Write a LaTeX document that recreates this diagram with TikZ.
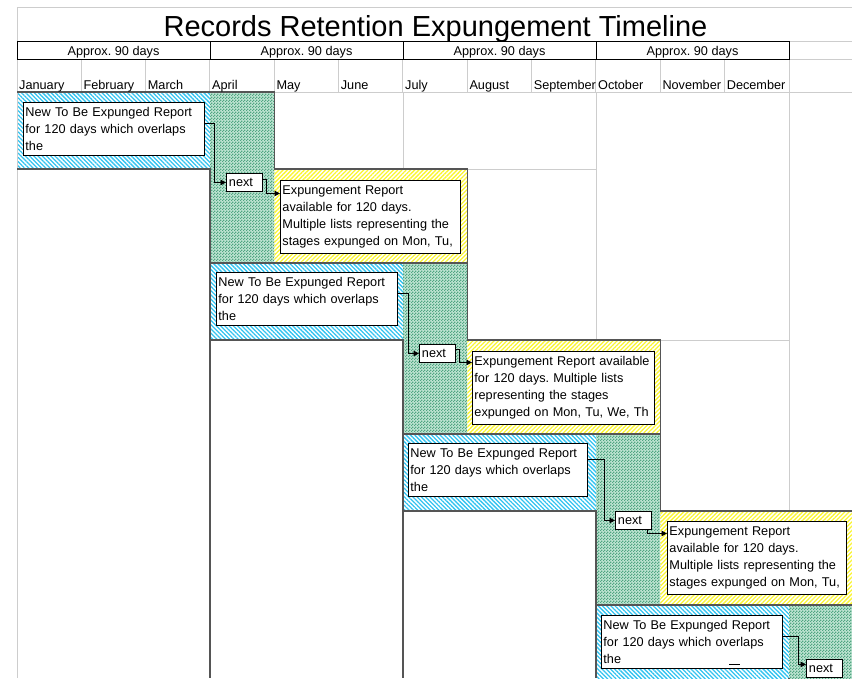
\documentclass[tikz,border=0pt]{standalone}
\usepackage{fontspec}
\setmainfont{Liberation Sans}
\usetikzlibrary{arrows.meta,patterns,patterns.meta}
\frenchspacing

\definecolor{hatchblue}{RGB}{50,195,240}
\definecolor{hatchyellow}{RGB}{250,245,50}
\definecolor{checklight}{RGB}{190,228,210}
\definecolor{checkdark}{RGB}{80,165,130}
\definecolor{gridgray}{RGB}{205,205,205}
\definecolor{edgegray}{RGB}{85,85,85}

% small two-tone check used for the overlap columns
\pgfdeclarepatternformonly{finechecker}{\pgfpointorigin}{\pgfqpoint{3pt}{3pt}}{\pgfqpoint{3pt}{3pt}}{%
  \pgfpathrectangle{\pgfpointorigin}{\pgfqpoint{1.5pt}{1.5pt}}%
  \pgfpathrectangle{\pgfqpoint{1.5pt}{1.5pt}}{\pgfqpoint{1.5pt}{1.5pt}}%
  \pgfusepath{fill}}

\tikzset{
  txt/.style={font=\fontsize{12.7}{17}\selectfont},
  note/.style={txt, draw, fill=white, line width=0.9pt, anchor=north west,
    align=left, inner xsep=2pt, inner ysep=0pt, text width=#1, minimum height=53,
    execute at begin node={\hyphenpenalty=10000\exhyphenpenalty=10000}},
  nextbox/.style={txt, draw, fill=white, line width=0.9pt, anchor=north west,
    align=left, inner sep=0pt, text width=31, minimum width=36, minimum height=18},
  conn/.style={line width=0.8pt, -{Triangle[length=5.5pt,width=5.5pt]}},
  gridline/.style={gridgray, line width=1pt},
  edge/.style={edgegray, line width=1.3pt},
  bluehatch/.style={pattern={Lines[angle=-45,distance=3pt,line width=1.3pt]}, pattern color=hatchblue},
  yellowhatch/.style={pattern={Lines[angle=45,distance=3pt,line width=1.3pt]}, pattern color=hatchyellow},
}

\begin{document}
\begin{tikzpicture}[x=1pt,y=-1pt]
    \useasboundingbox (0,0) rectangle (852,678);
    \clip (0,0) rectangle (852,678);

    % bands
    \foreach \i in {0,1,2,3} {
        \pgfmathsetmacro\xa{17+193*\i}
        \pgfmathsetmacro\ya{92+171*\i}
        \fill[bluehatch] (\xa,\ya) rectangle ++(193,77);
        \fill[checklight] (\xa+193,\ya) rectangle ++(64.33,171);
        \fill[pattern=finechecker, pattern color=checkdark] (\xa+193,\ya) rectangle ++(64.33,171);
        \fill[yellowhatch] (\xa+257.33,\ya+77) rectangle ++(193,94);
    }

    % grid
    \draw[gridline] (17,7) -- (852,7);
    \draw[gridline] (17,7) -- (17,678);
    \draw[gridline] (789,41) -- (852,41);
    \draw[gridline] (789,59) -- (852,59);
    \draw[gridline] (17,92) -- (852,92);
    \foreach \k in {1,...,11}
        \draw[gridline] (17+64.33*\k,59) -- (17+64.33*\k,92);
    \draw[gridline] (403,92) -- (403,169);
    \draw[gridline] (596,92) -- (596,340);
    \draw[gridline] (789,59) -- (789,511);
    \draw[gridline] (467,169) -- (596,169);
    \draw[gridline] (660,340) -- (789,340);

    % header boxes
    \draw[line width=1pt] (17,41) rectangle (789,59);
    \foreach \q in {1,2,3}
        \draw[line width=1pt] (17+193*\q,41) -- (17+193*\q,59);

    % band outlines
    \foreach \i in {0,1,2,3} {
        \pgfmathsetmacro\xa{17+193*\i}
        \pgfmathsetmacro\ya{92+171*\i}
        \draw[edge] (\xa,\ya) -- ++(257.33,0) -- ++(0,77) -- ++(193,0) -- ++(0,94);
        \draw[edge] (\xa,\ya+77) -- ++(193,0) -- (\xa+193,678);
    }

    % titles
    \node[font=\fontsize{29}{34}\selectfont, anchor=base] (title) at (435.5,36) {Records Retention Expungement Timeline};
    \node[txt, anchor=base] (q1) at (113.5,55) {Approx. 90 days};
    \node[txt, anchor=base] (q2) at (306.5,55) {Approx. 90 days};
    \node[txt, anchor=base] (q3) at (499.5,55) {Approx. 90 days};
    \node[txt, anchor=base] (q4) at (692.5,55) {Approx. 90 days};

    % months
    \foreach \m [count=\k from 0] in {January,February,March,April,May,June,July,August,September,October,November,December}
        \node[txt, anchor=base west, inner sep=0pt] (m\k) at (19+64.33*\k,89) {\m};

    % reports
    \node[note=177] (new1) at (23,102) {New To Be Expunged Report\\for 120 days which overlaps\\the};
    \node[note=177] (new2) at (216,272) {New To Be Expunged Report\\for 120 days which overlaps\\the};
    \node[note=175] (new3) at (408,443) {New To Be Expunged Report\\for 120 days which overlaps\\the};
    \node[note=177] (new4) at (601,615) {New To Be Expunged Report\\for 120 days which overlaps\\the};

    \node[note=176, minimum height=73] (exp1) at (280,180) {Expungement Report\\available for 120 days.\\Multiple lists representing the\\stages expunged on Mon, Tu,};
    \node[note=178, minimum height=73] (exp2) at (472,351) {Expungement Report available\\for 120 days. Multiple lists\\representing the stages\\expunged on Mon, Tu, We, Th};
    \node[note=175, minimum height=73] (exp3) at (667,521) {Expungement Report\\available for 120 days.\\Multiple lists representing the\\stages expunged on Mon, Tu,};

    \node[nextbox] (next1) at (226,173) {next};
    \node[nextbox] (next2) at (419,344) {next};
    \node[nextbox] (next3) at (615,511) {next};
    \node[nextbox] (next4) at (806,659) {next};

    % connectors
    \draw[conn] ([yshift=6]new1.east) -- ++(9,0) |- (next1.west);
    \draw[conn] ([yshift=3]next1.east) -- ++(3.5,0) |- ([yshift=23.5]exp1.west);
    \draw[conn] ([yshift=5.5]new2.east) -- ++(10,0) |- (next2.west);
    \draw[conn] ([yshift=4]next2.east) -- ++(3,0) |- ([yshift=25.5]exp2.west);
    \draw[conn] ([yshift=11]new3.east) -- ++(16,0) |- (next3.west);
    \draw[conn] ([xshift=-5]next3.south east) |- ([yshift=24.5]exp3.west);
    \draw[conn] ([yshift=5.5]new4.east) -- ++(15,0) |- ([yshift=4]next4.west);

    \draw[line width=1pt] (729,664) -- (740,664);
\end{tikzpicture}
\end{document}
